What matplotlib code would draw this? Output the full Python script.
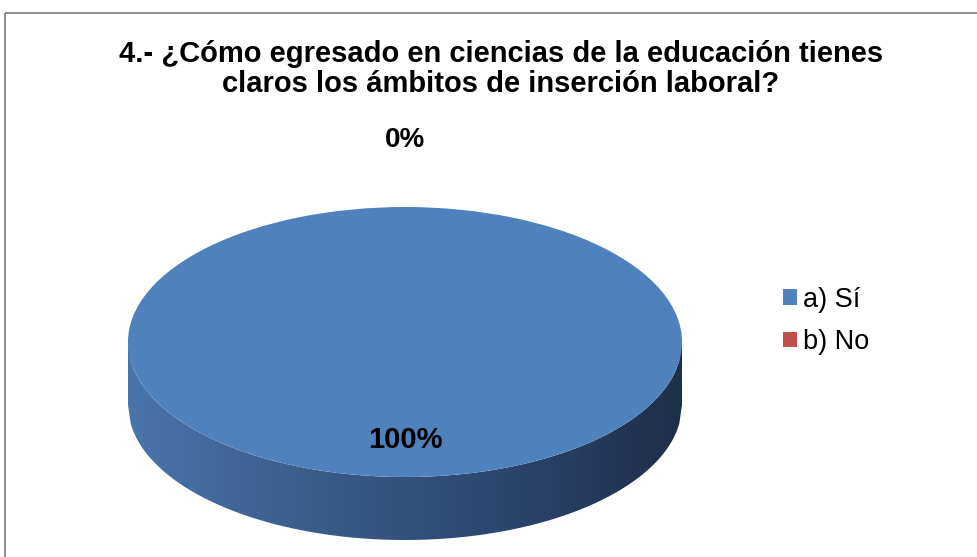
import numpy as np
import matplotlib
matplotlib.use("Agg")
import matplotlib.pyplot as plt
from matplotlib.patches import Rectangle, Polygon
from matplotlib.colors import LinearSegmentedColormap

plt.rcParams['font.family'] = ['Liberation Sans', 'DejaVu Sans']

title = "4.- ¿Cómo egresado en ciencias de la educación tienes\nclaros los ámbitos de inserción laboral?"
labels = ['a) Sí', 'b) No']
values = [100, 0]
colors = ['#4F81BD', '#C0504D']

W, H = 978, 557
fig = plt.figure(figsize=(W / 100, H / 100), dpi=100)

# background axes in pixel coords
bg = fig.add_axes([0, 0, 1, 1])
bg.set_xlim(0, W)
bg.set_ylim(H, 0)
bg.axis('off')
bg.add_patch(Rectangle((5, 13), 1000, 600, fill=False, ec='#868686', lw=1.3))
bg.text(501, 69, title, ha='center', va='center', fontsize=21,
        fontweight='bold', linespacing=1.12)

# pie geometry (pixels)
cx, cy, a, b, depth = 405, 342, 277, 135, 63
d = depth / b
top_px, bot_px = cy - b, cy + b + depth
ax = fig.add_axes([(cx - a) / W, (H - bot_px) / H, 2 * a / W, (bot_px - top_px) / H])
ax.axis('off')

wedges, _ = ax.pie(values, colors=colors, startangle=90, counterclock=False,
                   radius=1, wedgeprops=dict(lw=0))
for w in wedges:
    w.set_zorder(3)
ax.set_aspect('auto')

# side of the cylinder with a dark horizontal gradient
xs = np.linspace(-1, 1, 200)
upper = -np.sqrt(1 - xs ** 2)
poly = np.vstack([np.column_stack([xs, upper]),
                  np.column_stack([xs[::-1], upper[::-1] - d])])
side = Polygon(poly, closed=True, fc='none', ec='none')
ax.add_patch(side)
cmap = LinearSegmentedColormap.from_list('side', ['#4A75AC', '#3A5C8A', '#2C4770', '#1E2F48'])
grad = np.linspace(0, 1, 256).reshape(1, -1)
im = ax.imshow(grad, cmap=cmap, extent=[-1, 1, -1 - d, 0], aspect='auto', zorder=2)
im.set_clip_path(side)
ax.set_xlim(-1, 1)
ax.set_ylim(-1 - d, 1)

# data labels
ax.text(0, -98 / b, f"{values[0]}%", ha='center', va='center', fontsize=21,
        fontweight='bold', zorder=5)
ax.text(0, 202 / b, f"{values[1]}%", ha='center', va='center', fontsize=20,
        fontweight='bold', zorder=5, clip_on=False)

leg = fig.legend(wedges, labels, loc='center left',
                 bbox_to_anchor=(759 / W, 1 - 321 / H), frameon=False,
                 fontsize=19.5, handlelength=0.52, handleheight=0.52,
                 handletextpad=0.2, labelspacing=0.6)

fig.savefig('out.png', dpi=100)
